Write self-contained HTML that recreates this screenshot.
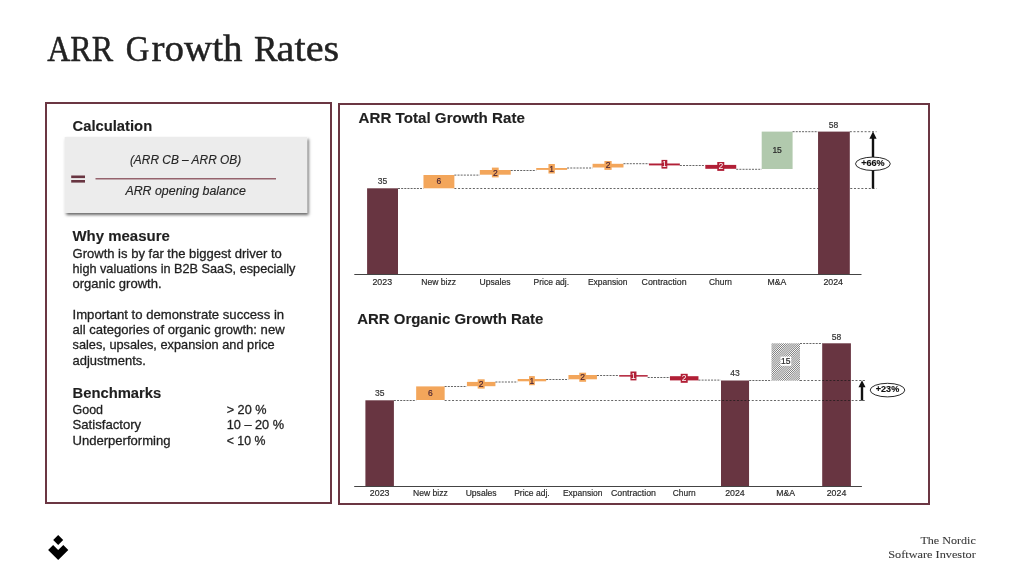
<!DOCTYPE html>
<html lang="en">
<head>
<meta charset="utf-8">
<title>ARR Growth Rates</title>
<style>
html,body{margin:0;padding:0;background:#fff;}
body{width:1024px;height:575px;overflow:hidden;font-family:"Liberation Sans",sans-serif;}
svg{display:block;will-change:transform;}
text{white-space:pre;}
</style>
</head>
<body>
<svg width="1024" height="575" viewBox="0 0 1024 575">
<defs>
<filter id="sh" x="-5%" y="-10%" width="112%" height="125%">
<feDropShadow dx="1.5" dy="2" stdDeviation="1.6" flood-color="#000" flood-opacity="0.6"/>
</filter>
<pattern id="hatch" width="1.5" height="1.5" patternUnits="userSpaceOnUse" patternTransform="rotate(-45)">
<rect width="1.5" height="1.5" fill="#fff"/>
<rect width="1.5" height="0.72" fill="#727272"/>
</pattern>
</defs>
<rect width="1024" height="575" fill="#fff"/>
<text x="47.20" y="60.60" font-size="35" font-family="'Liberation Serif', serif" fill="#222" textLength="66.00" lengthAdjust="spacingAndGlyphs" stroke="#222" stroke-width="0.45">ARR</text>
<text x="125.70" y="60.60" font-size="35" font-family="'Liberation Serif', serif" fill="#222" textLength="23.60" lengthAdjust="spacingAndGlyphs" stroke="#222" stroke-width="0.45">G</text>
<text x="151.60" y="60.60" font-size="37.5" font-family="'Liberation Serif', serif" fill="#222" textLength="91.00" lengthAdjust="spacingAndGlyphs" stroke="#222" stroke-width="0.45">rowth</text>
<text x="253.90" y="60.60" font-size="35" font-family="'Liberation Serif', serif" fill="#222" textLength="23.60" lengthAdjust="spacingAndGlyphs" stroke="#222" stroke-width="0.45">R</text>
<text x="276.60" y="60.60" font-size="37.5" font-family="'Liberation Serif', serif" fill="#222" textLength="62.60" lengthAdjust="spacingAndGlyphs" stroke="#222" stroke-width="0.45">ates</text>
<rect x="46" y="103" width="285" height="400" fill="#fff" stroke="#6b3643" stroke-width="2"/>
<rect x="339" y="104" width="590" height="400" fill="#fff" stroke="#6b3643" stroke-width="2"/>
<text x="72.50" y="131.00" font-size="14" font-family="'Liberation Sans', sans-serif" font-weight="bold" fill="#1f1f1f" textLength="79.70" lengthAdjust="spacingAndGlyphs" stroke="#1f1f1f" stroke-width="0.12">Calculation</text>
<rect x="64.7" y="137" width="242.4" height="76" fill="#ececec" filter="url(#sh)"/>
<rect x="71.20" y="175.50" width="13.80" height="2.60" fill="#683541"/>
<rect x="71.20" y="180.00" width="13.80" height="2.60" fill="#683541"/>
<line x1="95.5" y1="178.8" x2="276" y2="178.8" stroke="#95636d" stroke-width="1.5"/>
<text x="129.90" y="164.00" font-size="12.5" font-family="'Liberation Sans', sans-serif" font-style="italic" fill="#262626" textLength="111.30" lengthAdjust="spacingAndGlyphs" stroke="#262626" stroke-width="0.15">(ARR CB – ARR OB)</text>
<text x="125.40" y="195.10" font-size="12.5" font-family="'Liberation Sans', sans-serif" font-style="italic" fill="#262626" textLength="120.50" lengthAdjust="spacingAndGlyphs" stroke="#262626" stroke-width="0.15">ARR opening balance</text>
<text x="72.50" y="241.40" font-size="14" font-family="'Liberation Sans', sans-serif" font-weight="bold" fill="#1f1f1f" textLength="97.30" lengthAdjust="spacingAndGlyphs" stroke="#1f1f1f" stroke-width="0.12">Why measure</text>
<text x="72.50" y="257.50" font-size="13" font-family="'Liberation Sans', sans-serif" fill="#1f1f1f" textLength="209.30" lengthAdjust="spacingAndGlyphs" stroke="#1f1f1f" stroke-width="0.3">Growth is by far the biggest driver to</text>
<text x="72.50" y="272.80" font-size="13" font-family="'Liberation Sans', sans-serif" fill="#1f1f1f" textLength="222.90" lengthAdjust="spacingAndGlyphs" stroke="#1f1f1f" stroke-width="0.3">high valuations in B2B SaaS, especially</text>
<text x="72.50" y="288.10" font-size="13" font-family="'Liberation Sans', sans-serif" fill="#1f1f1f" textLength="89.10" lengthAdjust="spacingAndGlyphs" stroke="#1f1f1f" stroke-width="0.3">organic growth.</text>
<text x="72.50" y="318.70" font-size="13" font-family="'Liberation Sans', sans-serif" fill="#1f1f1f" textLength="211.60" lengthAdjust="spacingAndGlyphs" stroke="#1f1f1f" stroke-width="0.3">Important to demonstrate success in</text>
<text x="72.50" y="334.00" font-size="13" font-family="'Liberation Sans', sans-serif" fill="#1f1f1f" textLength="212.10" lengthAdjust="spacingAndGlyphs" stroke="#1f1f1f" stroke-width="0.3">all categories of organic growth: new</text>
<text x="72.50" y="349.30" font-size="13" font-family="'Liberation Sans', sans-serif" fill="#1f1f1f" textLength="202.20" lengthAdjust="spacingAndGlyphs" stroke="#1f1f1f" stroke-width="0.3">sales, upsales, expansion and price</text>
<text x="72.50" y="364.60" font-size="13" font-family="'Liberation Sans', sans-serif" fill="#1f1f1f" textLength="73.40" lengthAdjust="spacingAndGlyphs" stroke="#1f1f1f" stroke-width="0.3">adjustments.</text>
<text x="72.50" y="398.00" font-size="14" font-family="'Liberation Sans', sans-serif" font-weight="bold" fill="#1f1f1f" textLength="88.80" lengthAdjust="spacingAndGlyphs" stroke="#1f1f1f" stroke-width="0.12">Benchmarks</text>
<text x="72.50" y="414.10" font-size="13" font-family="'Liberation Sans', sans-serif" fill="#1f1f1f" textLength="30.50" lengthAdjust="spacingAndGlyphs" stroke="#1f1f1f" stroke-width="0.3">Good</text>
<text x="226.70" y="414.10" font-size="13" font-family="'Liberation Sans', sans-serif" fill="#1f1f1f" textLength="39.80" lengthAdjust="spacingAndGlyphs" stroke="#1f1f1f" stroke-width="0.3">&gt; 20 %</text>
<text x="72.50" y="429.40" font-size="13" font-family="'Liberation Sans', sans-serif" fill="#1f1f1f" textLength="68.70" lengthAdjust="spacingAndGlyphs" stroke="#1f1f1f" stroke-width="0.3">Satisfactory</text>
<text x="226.70" y="429.40" font-size="13" font-family="'Liberation Sans', sans-serif" fill="#1f1f1f" textLength="57.40" lengthAdjust="spacingAndGlyphs" stroke="#1f1f1f" stroke-width="0.3">10 – 20 %</text>
<text x="72.50" y="444.70" font-size="13" font-family="'Liberation Sans', sans-serif" fill="#1f1f1f" textLength="98.00" lengthAdjust="spacingAndGlyphs" stroke="#1f1f1f" stroke-width="0.3">Underperforming</text>
<text x="226.70" y="444.70" font-size="13" font-family="'Liberation Sans', sans-serif" fill="#1f1f1f" textLength="38.70" lengthAdjust="spacingAndGlyphs" stroke="#1f1f1f" stroke-width="0.3">&lt; 10 %</text>
<polygon points="58.2,535.1 63.2,540.1 58.2,545.1 53.2,540.1" fill="#000"/>
<polygon points="48.1,550 53.1,545 58.2,550.1 63.3,545 68.3,550 58.2,560.1" fill="#000"/>
<text x="975.80" y="544.30" font-size="11" font-family="'Liberation Serif', serif" text-anchor="end" fill="#383838" textLength="55.40" lengthAdjust="spacingAndGlyphs" stroke="#383838" stroke-width="0.08">The Nordic</text>
<text x="975.80" y="557.50" font-size="11" font-family="'Liberation Serif', serif" text-anchor="end" fill="#383838" textLength="87.60" lengthAdjust="spacingAndGlyphs" stroke="#383838" stroke-width="0.08">Software Investor</text>
<text x="358.60" y="123.00" font-size="14" font-family="'Liberation Sans', sans-serif" font-weight="bold" fill="#1f1f1f" textLength="166.30" lengthAdjust="spacingAndGlyphs" stroke="#1f1f1f" stroke-width="0.12">ARR Total Growth Rate</text>
<line x1="398.00" y1="188.50" x2="423.47" y2="188.50" stroke="#151515" stroke-width="0.66" stroke-dasharray="2.0 1.15"/>
<line x1="454.37" y1="188.50" x2="876.50" y2="188.50" stroke="#151515" stroke-width="0.66" stroke-dasharray="2.0 1.7"/>
<rect x="367.10" y="188.30" width="30.90" height="86.20" fill="#683541"/>
<rect x="423.47" y="175.00" width="30.90" height="13.30" fill="#f3a65b"/>
<line x1="454.37" y1="175.10" x2="479.84" y2="175.10" stroke="#151515" stroke-width="0.66" stroke-dasharray="2.0 1.15"/>
<rect x="479.84" y="170.00" width="30.90" height="4.70" fill="#f3a65b"/>
<line x1="510.74" y1="170.50" x2="536.21" y2="170.50" stroke="#151515" stroke-width="0.66" stroke-dasharray="2.0 1.15"/>
<rect x="536.21" y="168.00" width="30.90" height="1.90" fill="#f3a65b"/>
<line x1="567.11" y1="168.00" x2="592.58" y2="168.00" stroke="#151515" stroke-width="0.66" stroke-dasharray="2.0 1.15"/>
<rect x="592.58" y="163.80" width="30.90" height="3.70" fill="#f3a65b"/>
<line x1="623.48" y1="163.70" x2="648.95" y2="163.70" stroke="#151515" stroke-width="0.66" stroke-dasharray="2.0 1.15"/>
<rect x="648.95" y="163.50" width="30.90" height="1.90" fill="#b11f36"/>
<line x1="679.85" y1="165.50" x2="705.32" y2="165.50" stroke="#151515" stroke-width="0.66" stroke-dasharray="2.0 1.15"/>
<rect x="705.32" y="164.90" width="30.90" height="3.90" fill="#b11f36"/>
<line x1="736.22" y1="169.30" x2="761.69" y2="169.30" stroke="#151515" stroke-width="0.66" stroke-dasharray="2.0 1.15"/>
<rect x="761.69" y="131.60" width="30.90" height="37.40" fill="#b1c9ad"/>
<line x1="792.59" y1="131.70" x2="818.06" y2="131.70" stroke="#151515" stroke-width="0.66" stroke-dasharray="2.0 1.15"/>
<line x1="849.80" y1="131.70" x2="876.50" y2="131.70" stroke="#151515" stroke-width="0.66" stroke-dasharray="2.0 1.7"/>
<rect x="818.05" y="131.60" width="31.75" height="142.90" fill="#683541"/>
<line x1="354.3" y1="274.5" x2="861.5" y2="274.5" stroke="#444" stroke-width="1"/>
<text x="382.55" y="184.10" font-size="8.5" font-family="'Liberation Sans', sans-serif" text-anchor="middle" fill="#333" stroke="#333" stroke-width="0.18">35</text>
<text x="438.92" y="184.20" font-size="8.5" font-family="'Liberation Sans', sans-serif" text-anchor="middle" fill="#4a2434" stroke="#4a2434" stroke-width="0.18">6</text>
<rect x="491.89" y="167.60" width="6.80" height="9.80" fill="#f3a65b"/>
<text x="495.29" y="175.50" font-size="8.5" font-family="'Liberation Sans', sans-serif" text-anchor="middle" fill="#4a2434" stroke="#4a2434" stroke-width="0.18">2</text>
<rect x="548.46" y="164.00" width="6.40" height="9.50" fill="#f3a65b"/>
<text x="551.66" y="171.75" font-size="8.5" font-family="'Liberation Sans', sans-serif" text-anchor="middle" fill="#4a2434" stroke="#4a2434" stroke-width="0.18">1</text>
<rect x="604.43" y="161.00" width="7.20" height="8.90" fill="#f3a65b"/>
<text x="608.03" y="168.45" font-size="8.5" font-family="'Liberation Sans', sans-serif" text-anchor="middle" fill="#4a2434" stroke="#4a2434" stroke-width="0.18">2</text>
<rect x="661.50" y="159.90" width="5.80" height="8.70" fill="#b11f36"/>
<text x="664.40" y="167.25" font-size="8.5" font-family="'Liberation Sans', sans-serif" text-anchor="middle" fill="#fff">1</text>
<rect x="717.27" y="162.00" width="7.00" height="8.90" fill="#b11f36"/>
<text x="720.77" y="169.45" font-size="8.5" font-family="'Liberation Sans', sans-serif" text-anchor="middle" fill="#fff">2</text>
<text x="777.14" y="153.30" font-size="8.5" font-family="'Liberation Sans', sans-serif" text-anchor="middle" fill="#2a2a2a" stroke="#2a2a2a" stroke-width="0.22">15</text>
<text x="833.51" y="128.10" font-size="8.5" font-family="'Liberation Sans', sans-serif" text-anchor="middle" fill="#333" stroke="#333" stroke-width="0.18">58</text>
<text x="382.25" y="284.60" font-size="8.6" font-family="'Liberation Sans', sans-serif" text-anchor="middle" fill="#2a2a2a" textLength="19.60" lengthAdjust="spacingAndGlyphs" stroke="#2a2a2a" stroke-width="0.18">2023</text>
<text x="438.62" y="284.60" font-size="8.6" font-family="'Liberation Sans', sans-serif" text-anchor="middle" fill="#2a2a2a" textLength="34.70" lengthAdjust="spacingAndGlyphs" stroke="#2a2a2a" stroke-width="0.18">New bizz</text>
<text x="494.99" y="284.60" font-size="8.6" font-family="'Liberation Sans', sans-serif" text-anchor="middle" fill="#2a2a2a" textLength="31.00" lengthAdjust="spacingAndGlyphs" stroke="#2a2a2a" stroke-width="0.18">Upsales</text>
<text x="551.36" y="284.60" font-size="8.6" font-family="'Liberation Sans', sans-serif" text-anchor="middle" fill="#2a2a2a" textLength="35.50" lengthAdjust="spacingAndGlyphs" stroke="#2a2a2a" stroke-width="0.18">Price adj.</text>
<text x="607.73" y="284.60" font-size="8.6" font-family="'Liberation Sans', sans-serif" text-anchor="middle" fill="#2a2a2a" textLength="39.50" lengthAdjust="spacingAndGlyphs" stroke="#2a2a2a" stroke-width="0.18">Expansion</text>
<text x="664.10" y="284.60" font-size="8.6" font-family="'Liberation Sans', sans-serif" text-anchor="middle" fill="#2a2a2a" textLength="45.00" lengthAdjust="spacingAndGlyphs" stroke="#2a2a2a" stroke-width="0.18">Contraction</text>
<text x="720.47" y="284.60" font-size="8.6" font-family="'Liberation Sans', sans-serif" text-anchor="middle" fill="#2a2a2a" textLength="22.80" lengthAdjust="spacingAndGlyphs" stroke="#2a2a2a" stroke-width="0.18">Churn</text>
<text x="776.84" y="284.60" font-size="8.6" font-family="'Liberation Sans', sans-serif" text-anchor="middle" fill="#2a2a2a" textLength="18.80" lengthAdjust="spacingAndGlyphs" stroke="#2a2a2a" stroke-width="0.18">M&amp;A</text>
<text x="833.21" y="284.60" font-size="8.6" font-family="'Liberation Sans', sans-serif" text-anchor="middle" fill="#2a2a2a" textLength="19.60" lengthAdjust="spacingAndGlyphs" stroke="#2a2a2a" stroke-width="0.18">2024</text>
<line x1="873" y1="137" x2="873" y2="188.6" stroke="#111" stroke-width="2.4"/>
<polygon points="873,131.6 876.6,138.8 869.4,138.8" fill="#111"/>
<ellipse cx="872.9" cy="163.8" rx="17.4" ry="6.7" fill="#fff" stroke="#111" stroke-width="0.9"/>
<text x="872.90" y="166.10" font-size="8.3" font-family="'Liberation Sans', sans-serif" font-weight="bold" text-anchor="middle" fill="#111" textLength="23.40" lengthAdjust="spacingAndGlyphs" stroke="#111" stroke-width="0.15">+66%</text>
<text x="357.20" y="324.00" font-size="14" font-family="'Liberation Sans', sans-serif" font-weight="bold" fill="#1f1f1f" textLength="186.20" lengthAdjust="spacingAndGlyphs" stroke="#1f1f1f" stroke-width="0.12">ARR Organic Growth Rate</text>
<rect x="365.40" y="400.30" width="28.50" height="86.20" fill="#683541"/>
<rect x="416.16" y="386.40" width="28.50" height="13.60" fill="#f3a65b"/>
<line x1="444.66" y1="386.50" x2="466.92" y2="386.50" stroke="#151515" stroke-width="0.66" stroke-dasharray="2.0 1.15"/>
<rect x="466.92" y="381.90" width="28.50" height="4.30" fill="#f3a65b"/>
<line x1="495.42" y1="382.00" x2="517.68" y2="382.00" stroke="#151515" stroke-width="0.66" stroke-dasharray="2.0 1.15"/>
<rect x="517.68" y="379.00" width="28.50" height="2.30" fill="#f3a65b"/>
<line x1="546.18" y1="379.50" x2="568.44" y2="379.50" stroke="#151515" stroke-width="0.66" stroke-dasharray="2.0 1.15"/>
<rect x="568.44" y="375.00" width="28.50" height="4.30" fill="#f3a65b"/>
<line x1="596.94" y1="375.50" x2="619.20" y2="375.50" stroke="#151515" stroke-width="0.66" stroke-dasharray="2.0 1.15"/>
<rect x="619.20" y="375.10" width="28.50" height="1.50" fill="#b11f36"/>
<line x1="647.70" y1="377.50" x2="669.96" y2="377.50" stroke="#151515" stroke-width="0.66" stroke-dasharray="2.0 1.15"/>
<rect x="669.96" y="376.20" width="28.50" height="4.20" fill="#b11f36"/>
<line x1="698.46" y1="380.10" x2="720.72" y2="380.10" stroke="#151515" stroke-width="0.66" stroke-dasharray="2.0 1.15"/>
<rect x="721.00" y="380.50" width="28.05" height="106.00" fill="#683541"/>
<rect x="822.20" y="343.30" width="28.70" height="143.20" fill="#683541"/>
<line x1="799.98" y1="343.50" x2="822.24" y2="343.50" stroke="#151515" stroke-width="0.66" stroke-dasharray="2.0 1.15"/>
<line x1="749.22" y1="380.50" x2="771.48" y2="380.50" stroke="#151515" stroke-width="0.66" stroke-dasharray="2.0 1.15"/>
<line x1="799.98" y1="380.50" x2="865.80" y2="380.50" stroke="#151515" stroke-width="0.66" stroke-dasharray="2.0 1.7"/>
<rect x="771.48" y="343.30" width="28.50" height="37.40" fill="url(#hatch)"/>
<line x1="393.90" y1="400.50" x2="416.16" y2="400.50" stroke="#151515" stroke-width="0.66" stroke-dasharray="2.0 1.15"/>
<line x1="444.66" y1="400.50" x2="865.80" y2="400.50" stroke="#151515" stroke-width="0.66" stroke-dasharray="2.0 1.7"/>
<line x1="354.2" y1="486.5" x2="861.9" y2="486.5" stroke="#444" stroke-width="1"/>
<text x="379.65" y="396.00" font-size="8.5" font-family="'Liberation Sans', sans-serif" text-anchor="middle" fill="#333" stroke="#333" stroke-width="0.18">35</text>
<text x="430.41" y="396.30" font-size="8.5" font-family="'Liberation Sans', sans-serif" text-anchor="middle" fill="#4a2434" stroke="#4a2434" stroke-width="0.18">6</text>
<rect x="477.67" y="379.30" width="7.00" height="9.30" fill="#f3a65b"/>
<text x="481.17" y="386.95" font-size="8.5" font-family="'Liberation Sans', sans-serif" text-anchor="middle" fill="#4a2434" stroke="#4a2434" stroke-width="0.18">2</text>
<rect x="529.03" y="376.10" width="5.80" height="9.10" fill="#f3a65b"/>
<text x="531.93" y="383.65" font-size="8.5" font-family="'Liberation Sans', sans-serif" text-anchor="middle" fill="#4a2434" stroke="#4a2434" stroke-width="0.18">1</text>
<rect x="579.29" y="372.70" width="6.80" height="9.10" fill="#f3a65b"/>
<text x="582.69" y="380.25" font-size="8.5" font-family="'Liberation Sans', sans-serif" text-anchor="middle" fill="#4a2434" stroke="#4a2434" stroke-width="0.18">2</text>
<rect x="630.45" y="371.50" width="6.00" height="8.90" fill="#b11f36"/>
<text x="633.45" y="378.95" font-size="8.5" font-family="'Liberation Sans', sans-serif" text-anchor="middle" fill="#fff">1</text>
<rect x="680.71" y="373.80" width="7.00" height="9.00" fill="#b11f36"/>
<text x="684.21" y="381.30" font-size="8.5" font-family="'Liberation Sans', sans-serif" text-anchor="middle" fill="#fff">2</text>
<text x="735.00" y="376.30" font-size="8.5" font-family="'Liberation Sans', sans-serif" text-anchor="middle" fill="#333" stroke="#333" stroke-width="0.18">43</text>
<rect x="780.50" y="356.60" width="10.70" height="9.20" fill="#fff"/>
<text x="785.73" y="364.20" font-size="8.5" font-family="'Liberation Sans', sans-serif" text-anchor="middle" fill="#2a2a2a" stroke="#2a2a2a" stroke-width="0.22">15</text>
<text x="836.49" y="339.90" font-size="8.5" font-family="'Liberation Sans', sans-serif" text-anchor="middle" fill="#333" stroke="#333" stroke-width="0.18">58</text>
<text x="379.65" y="496.20" font-size="8.6" font-family="'Liberation Sans', sans-serif" text-anchor="middle" fill="#2a2a2a" textLength="19.60" lengthAdjust="spacingAndGlyphs" stroke="#2a2a2a" stroke-width="0.18">2023</text>
<text x="430.41" y="496.20" font-size="8.6" font-family="'Liberation Sans', sans-serif" text-anchor="middle" fill="#2a2a2a" textLength="34.70" lengthAdjust="spacingAndGlyphs" stroke="#2a2a2a" stroke-width="0.18">New bizz</text>
<text x="481.17" y="496.20" font-size="8.6" font-family="'Liberation Sans', sans-serif" text-anchor="middle" fill="#2a2a2a" textLength="31.00" lengthAdjust="spacingAndGlyphs" stroke="#2a2a2a" stroke-width="0.18">Upsales</text>
<text x="531.93" y="496.20" font-size="8.6" font-family="'Liberation Sans', sans-serif" text-anchor="middle" fill="#2a2a2a" textLength="35.50" lengthAdjust="spacingAndGlyphs" stroke="#2a2a2a" stroke-width="0.18">Price adj.</text>
<text x="582.69" y="496.20" font-size="8.6" font-family="'Liberation Sans', sans-serif" text-anchor="middle" fill="#2a2a2a" textLength="39.50" lengthAdjust="spacingAndGlyphs" stroke="#2a2a2a" stroke-width="0.18">Expansion</text>
<text x="633.45" y="496.20" font-size="8.6" font-family="'Liberation Sans', sans-serif" text-anchor="middle" fill="#2a2a2a" textLength="45.00" lengthAdjust="spacingAndGlyphs" stroke="#2a2a2a" stroke-width="0.18">Contraction</text>
<text x="684.21" y="496.20" font-size="8.6" font-family="'Liberation Sans', sans-serif" text-anchor="middle" fill="#2a2a2a" textLength="22.80" lengthAdjust="spacingAndGlyphs" stroke="#2a2a2a" stroke-width="0.18">Churn</text>
<text x="734.97" y="496.20" font-size="8.6" font-family="'Liberation Sans', sans-serif" text-anchor="middle" fill="#2a2a2a" textLength="19.60" lengthAdjust="spacingAndGlyphs" stroke="#2a2a2a" stroke-width="0.18">2024</text>
<text x="785.73" y="496.20" font-size="8.6" font-family="'Liberation Sans', sans-serif" text-anchor="middle" fill="#2a2a2a" textLength="18.80" lengthAdjust="spacingAndGlyphs" stroke="#2a2a2a" stroke-width="0.18">M&amp;A</text>
<text x="836.49" y="496.20" font-size="8.6" font-family="'Liberation Sans', sans-serif" text-anchor="middle" fill="#2a2a2a" textLength="19.60" lengthAdjust="spacingAndGlyphs" stroke="#2a2a2a" stroke-width="0.18">2024</text>
<line x1="862" y1="386" x2="862" y2="400.6" stroke="#111" stroke-width="2.4"/>
<polygon points="862,380.3 865.5,387.3 858.5,387.3" fill="#111"/>
<ellipse cx="887.5" cy="390.1" rx="17.3" ry="6.8" fill="#fff" stroke="#111" stroke-width="0.9"/>
<text x="887.50" y="392.40" font-size="8.3" font-family="'Liberation Sans', sans-serif" font-weight="bold" text-anchor="middle" fill="#111" textLength="23.40" lengthAdjust="spacingAndGlyphs" stroke="#111" stroke-width="0.15">+23%</text>
</svg>
</body>
</html>
